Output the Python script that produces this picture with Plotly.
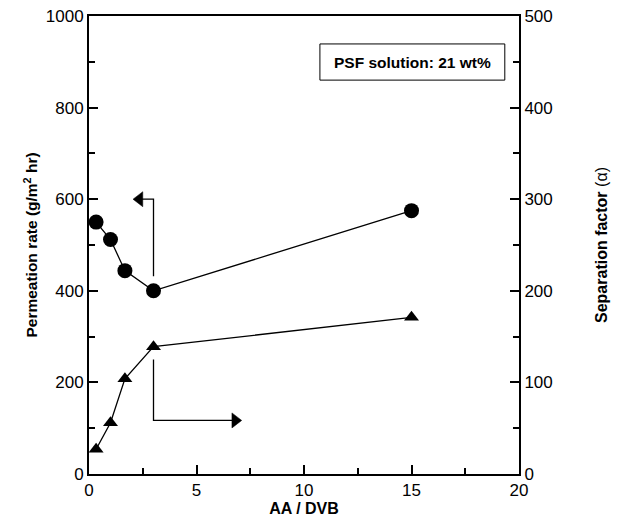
import plotly.graph_objects as go

# Data
aa_dvb = [0.33, 1.0, 1.67, 3.0, 15.0]
permeation = [550, 512, 444, 400, 575]
separation = [27, 56, 104, 139, 171]

# Direction arrows (data coords, left axis): stem corner and arrow head
perm_arrow_x = [3.0, 3.0, 2.35]
perm_arrow_y = [432, 600, 600]
sep_arrow_x = [3.0, 3.0, 6.8]
sep_arrow_y = [250, 117, 117]

legend_text = "<b>PSF solution: 21 wt%</b>"

font_family = "Liberation Sans, Arial, sans-serif"

fig = go.Figure()
fig.add_trace(go.Scatter(
    x=aa_dvb, y=permeation, mode="lines+markers",
    line=dict(color="black", width=1.3),
    marker=dict(symbol="circle", size=15, color="black"),
    showlegend=False, cliponaxis=False))
fig.add_trace(go.Scatter(
    x=aa_dvb, y=separation, mode="lines+markers", yaxis="y2",
    line=dict(color="black", width=1.3),
    marker=dict(symbol="triangle-up", size=13, color="black"),
    showlegend=False, cliponaxis=False))

# arrows: stems
for ax_, ay_ in ((perm_arrow_x, perm_arrow_y), (sep_arrow_x, sep_arrow_y)):
    fig.add_trace(go.Scatter(
        x=ax_, y=ay_, mode="lines",
        line=dict(color="black", width=1.3),
        showlegend=False, hoverinfo="skip"))
# arrows: heads
fig.add_trace(go.Scatter(
    x=perm_arrow_x[-1:], y=perm_arrow_y[-1:], mode="markers",
    marker=dict(symbol="triangle-left", size=13, color="black",
                line=dict(color="black", width=0.5)),
    showlegend=False, hoverinfo="skip"))
fig.add_trace(go.Scatter(
    x=sep_arrow_x[-1:], y=sep_arrow_y[-1:], mode="markers",
    marker=dict(symbol="triangle-right", size=13, color="black",
                line=dict(color="black", width=0.5)),
    showlegend=False, hoverinfo="skip"))

# legend box
fig.add_shape(type="rect", xref="paper", yref="paper",
              x0=0.537, x1=0.967, y0=0.860, y1=0.939,
              line=dict(color="black", width=1), fillcolor="white", layer="below")
fig.add_annotation(x=0.752, y=0.8995, xref="paper", yref="paper",
                   xanchor="center", yanchor="middle", showarrow=False,
                   text=legend_text, font=dict(size=15.5, color="black", family=font_family))

axis_common = dict(showline=True, linecolor="black", linewidth=2,
                   ticks="inside", tickcolor="black", tickwidth=2, ticklen=9,
                   showgrid=False, zeroline=False, automargin=False,
                   tickfont=dict(size=17, color="black", family=font_family))

fig.update_layout(
    width=618, height=522,
    margin=dict(l=89, r=99, t=16, b=48),
    plot_bgcolor="white", paper_bgcolor="white",
    font=dict(family=font_family, color="black"),
    xaxis=dict(range=[0, 20], dtick=5, mirror=True,
               minor=dict(dtick=2.5, ticks="inside", ticklen=6, tickcolor="black", tickwidth=2),
               title=dict(text="<b>AA / DVB</b>", font=dict(size=16), standoff=2),
               **axis_common),
    yaxis=dict(range=[0, 1000], dtick=200,
               minor=dict(dtick=100, ticks="inside", ticklen=6, tickcolor="black", tickwidth=2),
               title=dict(text="<b>Permeation rate (g/m<sup>2</sup> hr)</b>", font=dict(size=15.5), standoff=4),
               **axis_common),
    yaxis2=dict(range=[0, 500], dtick=100, overlaying="y", side="right",
                minor=dict(dtick=50, ticks="inside", ticklen=6, tickcolor="black", tickwidth=2),
                title=dict(text="<b>Separation factor</b> (α)", font=dict(size=16), standoff=44),
                **axis_common),
)

fig.write_html("out.html")
